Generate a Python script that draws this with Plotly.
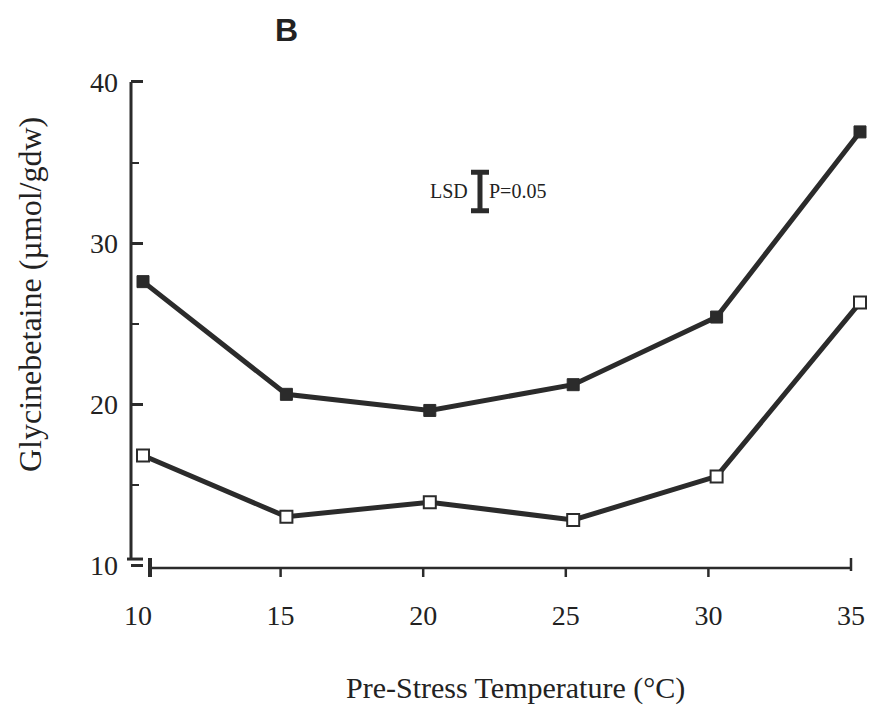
import plotly.graph_objects as go

# Pre-stress temperature (°C) and glycinebetaine content (µmol/gdw)
temperature = [10, 15, 20, 25, 30, 35]
gb_filled = [27.6, 20.6, 19.6, 21.2, 25.4, 36.9]
gb_open = [16.8, 13.0, 13.9, 12.8, 15.5, 26.3]

x_ticks = [10, 15, 20, 25, 30, 35]
y_ticks = [10, 20, 30, 40]

# LSD (P=0.05) bar: position and full length in data units
lsd_x = 21.75
lsd_center = 33.2
lsd_length = 2.4

INK = "#2b2b2b"
SERIF = "Liberation Serif, Times New Roman, serif"

W, H = 875, 707
L, R, T, B = 131, 5, 79, 139
plot_w = W - L - R
plot_h = H - T - B

fig = go.Figure()

fig.add_trace(go.Scatter(
    x=temperature, y=gb_filled, mode="lines+markers",
    line=dict(color=INK, width=5),
    marker=dict(symbol="square", size=12, color=INK, line=dict(color=INK, width=1)),
    cliponaxis=False, showlegend=False,
))
fig.add_trace(go.Scatter(
    x=temperature, y=gb_open, mode="lines+markers",
    line=dict(color=INK, width=5),
    marker=dict(symbol="square", size=12, color="white", line=dict(color=INK, width=2)),
    cliponaxis=False, showlegend=False,
))

# LSD bar drawn as a symmetric error bar
fig.add_trace(go.Scatter(
    x=[lsd_x], y=[lsd_center], mode="markers",
    marker=dict(size=1, color="rgba(0,0,0,0)"),
    error_y=dict(type="data", array=[lsd_length / 2], symmetric=True,
                 color=INK, thickness=5, width=9),
    showlegend=False, hoverinfo="skip",
))

# invisible trace carrying the tick-label axis
fig.add_trace(go.Scatter(
    x=[x_ticks[0], x_ticks[-1]], y=[None, None], xaxis="x2", mode="lines",
    showlegend=False, hoverinfo="skip",
))

fig.update_layout(
    width=W, height=H,
    margin=dict(l=L, r=R, t=T, b=B),
    paper_bgcolor="white", plot_bgcolor="white",
    font=dict(family=SERIF, color="#222"),
    xaxis=dict(
        range=[9.5816, 35.3487], showgrid=False, zeroline=False,
        showline=False, showticklabels=False, ticks="",
    ),
    xaxis2=dict(
        range=[9.7546, 35.6662], overlaying="x", side="bottom", anchor="y",
        showgrid=False, zeroline=False, showline=False,
        tickvals=x_ticks, ticktext=[str(v) for v in x_ticks],
        ticks="", ticklabelstandoff=28,
        tickfont=dict(family=SERIF, size=28, color="#222"),
    ),
    yaxis=dict(
        range=[9.814, 40.186], showgrid=False, zeroline=False, showline=False,
        tickvals=y_ticks, ticktext=[str(v) for v in y_ticks],
        ticks="inside", ticklen=12, tickwidth=3, tickcolor=INK,
        minor=dict(ticks="inside", ticklen=8, tickwidth=2, tickcolor=INK, dtick=5, tick0=5),
        ticklabelstandoff=12,
        tickfont=dict(family=SERIF, size=28, color="#222"),
    ),
)

px_y = 1.0 / plot_h
axis_start = 10.42  # where the drawn x-axis line begins

shapes = [
    # y-axis line
    dict(type="line", xref="paper", yref="y", x0=0, x1=0, y0=10.37, y1=40,
         line=dict(color=INK, width=3)),
    # y-axis foot crossbar
    dict(type="line", xref="paper", yref="y", x0=-4 / plot_w, x1=12 / plot_w,
         y0=10.37, y1=10.37, line=dict(color=INK, width=3)),
    # x-axis line
    dict(type="line", xref="x2", yref="paper", x0=axis_start, x1=x_ticks[-1],
         y0=0, y1=0, line=dict(color=INK, width=2.5)),
    # heavy mark at the start of the x-axis
    dict(type="line", xref="x2", yref="paper", x0=axis_start, x1=axis_start,
         y0=10 * px_y, y1=-9 * px_y, line=dict(color=INK, width=4)),
]
for v in x_ticks[1:-1]:
    shapes.append(dict(type="line", xref="x2", yref="paper", x0=v, x1=v,
                       y0=0, y1=-9 * px_y, line=dict(color=INK, width=2.5)))
shapes.append(dict(type="line", xref="x2", yref="paper", x0=x_ticks[-1], x1=x_ticks[-1],
                   y0=10 * px_y, y1=-3 * px_y, line=dict(color=INK, width=2.5)))
fig.update_layout(shapes=shapes)

annotations = [
    dict(text="Glycinebetaine (µmol/gdw)", textangle=-90, xref="paper", yref="paper",
         x=(30 - L) / plot_w, y=(H - B - 295) / plot_h, showarrow=False,
         xanchor="center", yanchor="middle", font=dict(family=SERIF, size=32, color="#222")),
    dict(text="Pre-Stress Temperature (°C)", xref="paper", yref="paper",
         x=(515 - L) / plot_w, y=(H - B - 688) / plot_h, showarrow=False,
         xanchor="center", yanchor="middle", font=dict(family=SERIF, size=30, color="#222")),
    dict(text="<b>B</b>", xref="paper", yref="paper",
         x=(286 - L) / plot_w, y=(H - B - 30) / plot_h, showarrow=False,
         xanchor="center", yanchor="middle",
         font=dict(family="Liberation Sans, Arial, sans-serif", size=32, color="#222")),
    dict(text="LSD", xref="x", yref="y", x=lsd_x, y=lsd_center, xshift=-10,
         showarrow=False, xanchor="right", yanchor="middle",
         font=dict(family=SERIF, size=20, color="#222")),
    dict(text="P=0.05", xref="x", yref="y", x=lsd_x, y=lsd_center, xshift=7,
         showarrow=False, xanchor="left", yanchor="middle",
         font=dict(family=SERIF, size=20, color="#222")),
]
fig.update_layout(annotations=annotations)

fig.write_html("out.html")
